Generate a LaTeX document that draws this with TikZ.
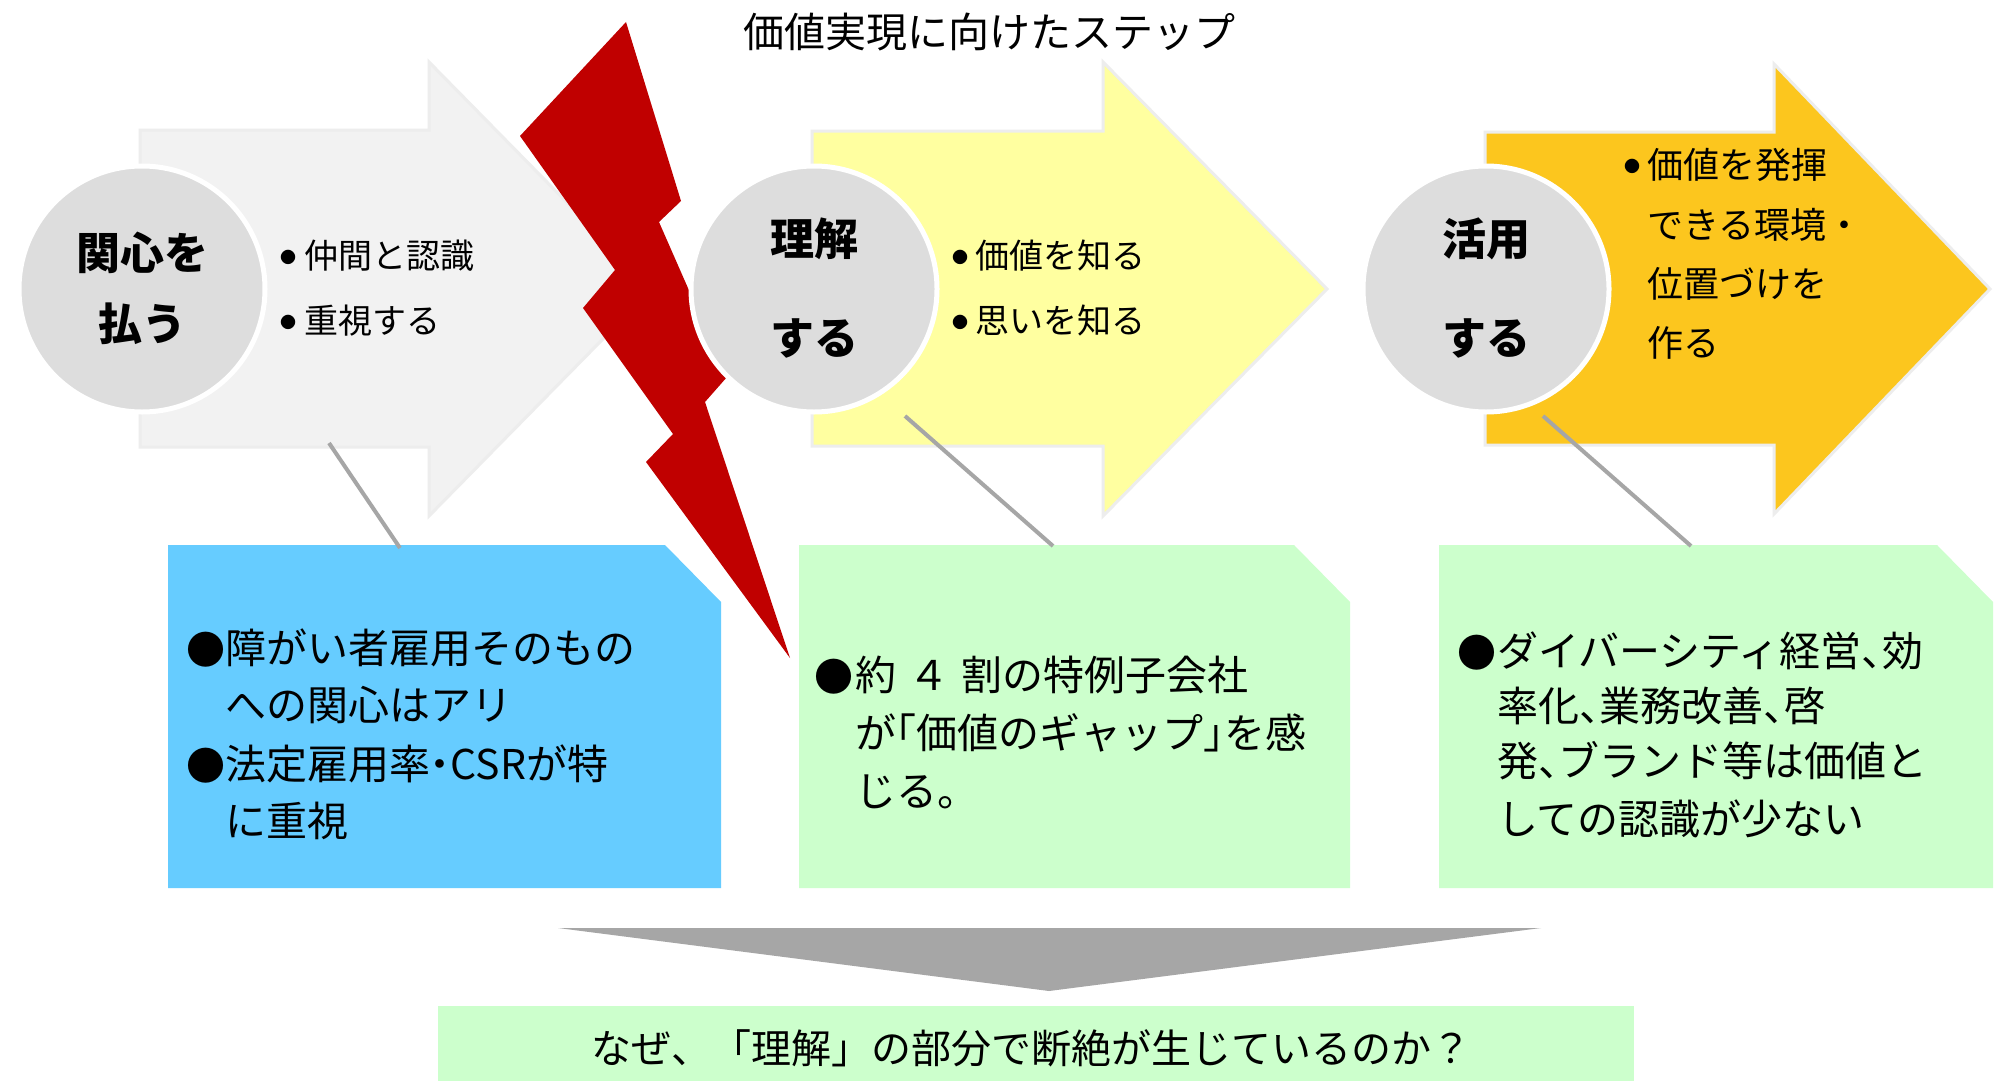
\documentclass[tikz,border=0pt]{standalone}
\usepackage{fontspec}
\setmainfont{Noto Sans CJK JP}
\newfontfamily\boxfont[RawFeature=+halt]{Noto Sans CJK JP}
\definecolor{arrowedge}{HTML}{EDEDED}
\definecolor{arrowone}{HTML}{F2F2F2}
\definecolor{arrowtwo}{HTML}{FFFFA0}
\definecolor{arrowthree}{HTML}{FCC61E}
\definecolor{circgray}{HTML}{DDDDDD}
\definecolor{boltred}{HTML}{C00000}
\definecolor{boxblue}{HTML}{66CCFF}
\definecolor{boxgreen}{HTML}{CCFFCC}
\definecolor{linegray}{HTML}{A6A6A6}
\begin{document}
\begin{tikzpicture}[x=1pt,y=-1pt,
  every node/.style={inner sep=0pt, outer sep=0pt},
  ttl/.style={text height=36.1pt, text depth=4.9pt, font=\fontsize{41}{41}\selectfont},
  atext/.style={text height=29.9pt, text depth=4.1pt, anchor=west, font=\fontsize{34}{34}\selectfont},
  athree/.style={text height=31.7pt, text depth=4.3pt, anchor=west, font=\fontsize{36}{36}\selectfont},
  abul/.style={text height=14.1pt, text depth=1.9pt, anchor=center, font=\fontsize{16}{16}\selectfont},
  ctext/.style={text height=38.7pt, text depth=5.3pt, anchor=center, font=\fontsize{44}{44}\selectfont\bfseries},
  btext/.style={text height=36.1pt, text depth=4.9pt, anchor=west, font=\fontsize{41}{41}\boxfont},
  bbul/.style={text height=34.3pt, text depth=4.7pt, anchor=center, font=\fontsize{39}{39}\selectfont},
  qtxt/.style={text height=35.2pt, text depth=4.8pt, font=\fontsize{40}{40}\selectfont},
  bigarrow/.style={draw=arrowedge, line width=3pt, line join=miter},
  circ/.style={circle, fill=circgray, draw=white, line width=5pt, minimum size=246pt},
  conn/.style={draw=linegray, line width=4pt}
]
\useasboundingbox (0,0) rectangle (1997,1081);
\fill[white] (0,0) rectangle (1997,1081);

% title
\node[ttl] (title) at (989,32) {価値実現に向けたステップ};

% arrows
\filldraw[bigarrow, fill=arrowone] (140,130) -- (429,130) -- (429,62) -- (652,289) -- (429,516) -- (429,447) -- (140,447) -- cycle;
\filldraw[bigarrow, fill=arrowtwo] (812,131) -- (1103,131) -- (1103,62) -- (1327,289) -- (1103,516) -- (1103,446) -- (812,446) -- cycle;
\filldraw[bigarrow, fill=arrowthree] (1485,132) -- (1774,132) -- (1774,64) -- (1990,289) -- (1774,514) -- (1774,445) -- (1485,445) -- cycle;

% lightning
\fill[boltred] (626,22) -- (681,201) -- (659,222) -- (727,377) -- (705,402) -- (790,658) -- (646,462) -- (673,434) -- (583,308) -- (615,270) -- (520,136) -- cycle;

% circles
\node[circ] (c1) at (142,289) {};
\node[circ] (c2) at (814,289) {};
\node[circ] (c3) at (1486,289) {};
\node[ctext] (c1a) at (142,253) {関心を};
\node[ctext] (c1b) at (142,324) {払う};
\node[ctext] (c2a) at (814,239) {理解};
\node[ctext] (c2b) at (814,338) {する};
\node[ctext] (c3a) at (1486,239) {活用};
\node[ctext] (c3b) at (1486,338) {する};

% arrow bullet texts
\node[abul] (a1d1) at (288,257) {●};
\node[atext] (a1t1) at (304,256) {仲間と認識};
\node[abul] (a1d2) at (288,322) {●};
\node[atext] (a1t2) at (304,321) {重視する};
\node[abul] (a2d1) at (960,257) {●};
\node[atext] (a2t1) at (975,256) {価値を知る};
\node[abul] (a2d2) at (960,322) {●};
\node[atext] (a2t2) at (975,321) {思いを知る};
\node[abul] (a3d1) at (1632,166) {●};
\node[athree] (a3t1) at (1647,165) {価値を発揮};
\node[athree] (a3t2) at (1647,225) {できる環境・};
\node[athree] (a3t3) at (1647,284) {位置づけを};
\node[athree] (a3t4) at (1647,343) {作る};

% callout boxes
\fill[boxblue] (168,545) -- (665,545) -- (721,602) -- (721,888) -- (168,888) -- cycle;
\fill[boxgreen] (799,545) -- (1294,545) -- (1350,602) -- (1350,888) -- (799,888) -- cycle;
\fill[boxgreen] (1439,545) -- (1937,545) -- (1993,602) -- (1993,888) -- (1439,888) -- cycle;
\coordinate (b1top) at (400,548);
\coordinate (b2top) at (1053,546);
\coordinate (b3top) at (1691,546);

% connectors
\coordinate (k1) at (329,443);
\coordinate (k2) at (905,416);
\coordinate (k3) at (1543,416);
\draw[conn] (k1) -- (b1top);
\draw[conn] (k2) -- (b2top);
\draw[conn] (k3) -- (b3top);

% box texts
\node[bbul] (b1d1) at (206,650) {●};
\node[btext] (b1t1) at (225,648) {障がい者雇用そのもの};
\node[btext] (b1t2) at (225,705) {への関心はアリ};
\node[bbul] (b1d2) at (206,766) {●};
\node[btext] (b1t3) at (225,764) {法定雇用率・CSRが特};
\node[btext] (b1t4) at (225,821) {に重視};

\node[bbul] (b2d1) at (834,677) {●};
\node[btext] (b2t1) at (855,675) {約\hspace{0.3em}４\hspace{0.3em}割の特例子会社};
\node[btext] (b2t2) at (855,733) {が「価値のギャップ」を感};
\node[btext] (b2t3) at (855,791) {じる。};

\node[bbul] (b3d1) at (1477,653) {●};
\node[btext] (b3t1) at (1497,651) {ダイバーシティ経営、効};
\node[btext] (b3t2) at (1497,706) {率化、業務改善、啓};
\node[btext] (b3t3) at (1497,761) {発、ブランド等は価値と};
\node[btext] (b3t4) at (1497,819) {しての認識が少ない};

% bottom
\fill[linegray] (558,928) -- (1541,928) -- (1049,991) -- cycle;
\node[fill=boxgreen, minimum width=1196pt, minimum height=84pt] (qbox) at (1036,1048) {};
\node[qtxt] (qtext) at (1031,1048) {なぜ、「理解」の部分で断絶が生じているのか？};
\end{tikzpicture}
\end{document}
